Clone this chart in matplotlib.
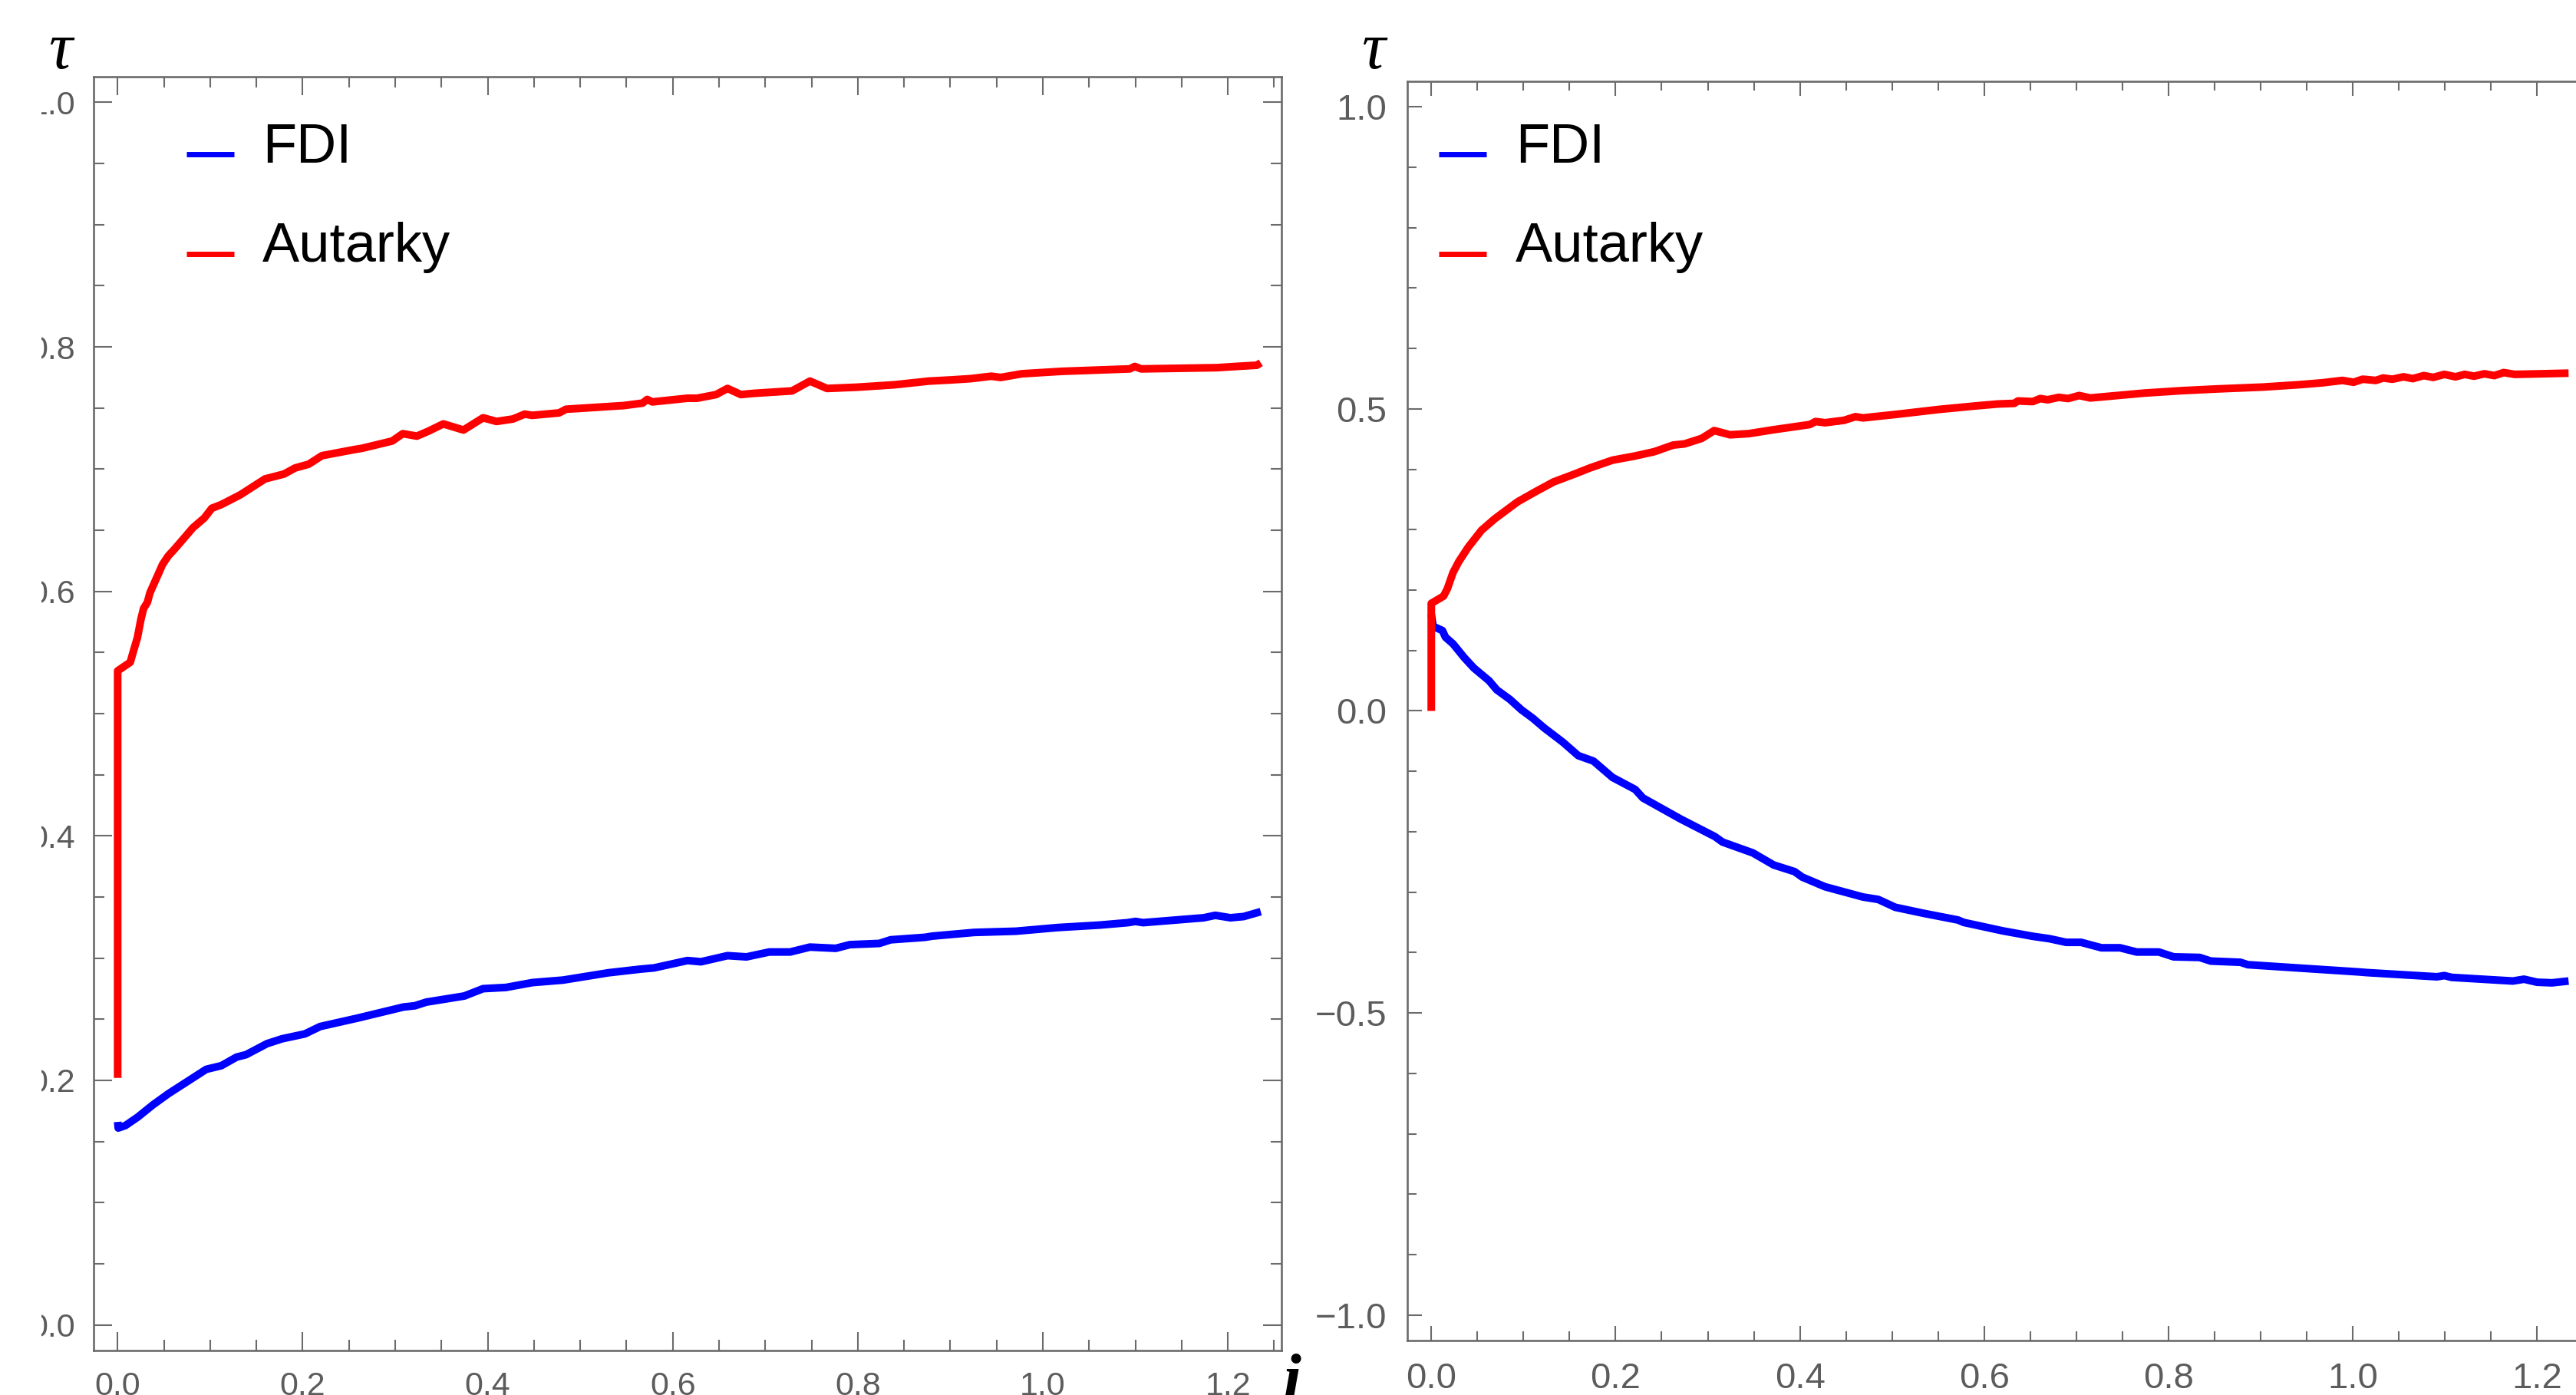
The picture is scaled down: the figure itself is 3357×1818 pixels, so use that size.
import matplotlib
matplotlib.use("Agg")
import matplotlib.pyplot as plt
from matplotlib import font_manager
from matplotlib.ticker import MultipleLocator
from matplotlib.transforms import Bbox, TransformedBbox

# ── DATA ─────────────────────────────────────────────────────────────────────

# left panel: tau against i
left_fdi_x = [0.0, 0.0006, 0.0083, 0.0218, 0.0382, 0.0547, 0.0711, 0.0875, 0.0957, 0.1121,
              0.1285, 0.1388, 0.1614, 0.1777, 0.2024, 0.2188, 0.2598, 0.3090, 0.3213, 0.3336,
              0.3747, 0.3950, 0.4197, 0.4485, 0.4813, 0.5059, 0.5305, 0.5654, 0.5798, 0.6159,
              0.6305, 0.6592, 0.6797, 0.7044, 0.7269, 0.7483, 0.7762, 0.7914, 0.8233, 0.8356,
              0.8726, 0.8808, 0.9259, 0.9710, 1.0161, 1.0612, 1.0920, 1.1002, 1.1084, 1.1740,
              1.1864, 1.2028, 1.2171, 1.2356]
left_fdi_y = [0.166, 0.161, 0.163, 0.170, 0.180, 0.189, 0.197, 0.205, 0.209, 0.212,
              0.219, 0.221, 0.230, 0.234, 0.238, 0.244, 0.251, 0.260, 0.261, 0.264,
              0.269, 0.275, 0.276, 0.280, 0.282, 0.285, 0.288, 0.291, 0.292, 0.298,
              0.297, 0.302, 0.301, 0.305, 0.305, 0.309, 0.308, 0.311, 0.312, 0.315,
              0.317, 0.318, 0.321, 0.322, 0.325, 0.327, 0.329, 0.330, 0.329, 0.333,
              0.335, 0.333, 0.334, 0.338]

left_aut_x = [0.0, 0.0, 0.0136, 0.0170, 0.0213, 0.0251, 0.0280, 0.0321, 0.0350, 0.0403,
              0.0485, 0.0547, 0.0608, 0.0711, 0.0813, 0.0936, 0.1018, 0.1120, 0.1326, 0.1593,
              0.1798, 0.1920, 0.2064, 0.2208, 0.2557, 0.2639, 0.2967, 0.3082, 0.3234, 0.3357,
              0.3520, 0.3738, 0.3950, 0.4095, 0.4272, 0.4400, 0.4480, 0.4772, 0.4846, 0.5470,
              0.5674, 0.5724, 0.5780, 0.6160, 0.6264, 0.6469, 0.6592, 0.6736, 0.6879, 0.7290,
              0.7483, 0.7667, 0.7987, 0.8397, 0.8766, 0.9013, 0.9218, 0.9443, 0.9546, 0.9772,
              1.0203, 1.0941, 1.0994, 1.1064, 1.1884, 1.2089, 1.2315, 1.2356]
left_aut_y = [0.202, 0.535, 0.542, 0.551, 0.562, 0.577, 0.586, 0.591, 0.599, 0.608,
              0.622, 0.629, 0.634, 0.643, 0.652, 0.660, 0.668, 0.671, 0.679, 0.692,
              0.696, 0.701, 0.704, 0.711, 0.716, 0.717, 0.723, 0.729, 0.727, 0.731,
              0.737, 0.732, 0.742, 0.739, 0.741, 0.745, 0.744, 0.746, 0.749, 0.752,
              0.754, 0.757, 0.755, 0.758, 0.758, 0.761, 0.766, 0.761, 0.762, 0.764,
              0.772, 0.766, 0.767, 0.769, 0.772, 0.773, 0.774, 0.776, 0.775, 0.778,
              0.780, 0.782, 0.784, 0.782, 0.783, 0.784, 0.785, 0.787]

# right panel
right_fdi_x = [0.0, 0.002, 0.0121, 0.0154, 0.0236, 0.0359, 0.0462, 0.0627, 0.0710, 0.0854,
               0.0977, 0.1101, 0.1224, 0.1430, 0.1595, 0.1760, 0.1966, 0.2213, 0.2296, 0.2707,
               0.3078, 0.3160, 0.3490, 0.3716, 0.3943, 0.4025, 0.4273, 0.4685, 0.4850, 0.5035,
               0.5344, 0.5715, 0.5777, 0.6201, 0.6527, 0.6709, 0.6890, 0.7051, 0.7272, 0.7473,
               0.7654, 0.7895, 0.8056, 0.8338, 0.8459, 0.8780, 0.8861, 0.9263, 0.9665, 1.0068,
               1.0148, 1.0913, 1.0993, 1.1073, 1.1737, 1.1858, 1.1999, 1.2160, 1.2341]
right_fdi_y = [0.160, 0.140, 0.133, 0.122, 0.111, 0.088, 0.071, 0.050, 0.035, 0.019,
               0.002, -0.012, -0.028, -0.052, -0.074, -0.083, -0.110, -0.130, -0.144, -0.179,
               -0.208, -0.217, -0.235, -0.255, -0.266, -0.275, -0.291, -0.308, -0.312, -0.325,
               -0.335, -0.346, -0.350, -0.364, -0.373, -0.377, -0.383, -0.383, -0.392, -0.392,
               -0.399, -0.399, -0.407, -0.408, -0.414, -0.416, -0.420, -0.424, -0.428, -0.432,
               -0.433, -0.440, -0.438, -0.441, -0.447, -0.444, -0.449, -0.450, -0.447]

right_aut_x = [0.0, 0.0, 0.0133, 0.0174, 0.0236, 0.0298, 0.0401, 0.0545, 0.0689, 0.0936,
               0.1121, 0.1327, 0.1554, 0.1719, 0.1966, 0.2213, 0.2419, 0.2625, 0.2749, 0.2934,
               0.3070, 0.3243, 0.3449, 0.3696, 0.4108, 0.4170, 0.4273, 0.4479, 0.4603, 0.4685,
               0.5056, 0.5509, 0.5921, 0.6148, 0.6326, 0.6366, 0.6527, 0.6608, 0.6688, 0.6809,
               0.6910, 0.7030, 0.7151, 0.7734, 0.8136, 0.8539, 0.9022, 0.9424, 0.9665, 0.9887,
               1.0008, 1.0108, 1.0249, 1.0329, 1.0430, 1.0550, 1.0651, 1.0771, 1.0872, 1.0993,
               1.1114, 1.1214, 1.1315, 1.1428, 1.1536, 1.1637, 1.1758, 1.2341]
right_aut_y = [0.0, 0.178, 0.190, 0.202, 0.229, 0.247, 0.271, 0.299, 0.318, 0.346,
               0.362, 0.379, 0.392, 0.402, 0.415, 0.422, 0.429, 0.440, 0.442, 0.451,
               0.464, 0.457, 0.459, 0.465, 0.474, 0.479, 0.477, 0.481, 0.487, 0.485,
               0.491, 0.499, 0.505, 0.508, 0.509, 0.513, 0.512, 0.517, 0.515, 0.519,
               0.517, 0.522, 0.518, 0.526, 0.530, 0.533, 0.536, 0.540, 0.543, 0.547,
               0.544, 0.549, 0.547, 0.551, 0.549, 0.553, 0.550, 0.555, 0.552, 0.557,
               0.553, 0.557, 0.554, 0.558, 0.555, 0.560, 0.557, 0.559]

x_ticks = [0.0, 0.2, 0.4, 0.6, 0.8, 1.0, 1.2]
x_tick_labels = ["0.0", "0.2", "0.4", "0.6", "0.8", "1.0", "1.2"]
left_y_ticks = [0.0, 0.2, 0.4, 0.6, 0.8, 1.0]
left_y_tick_labels = ["0.0", "0.2", "0.4", "0.6", "0.8", "1.0"]
right_y_ticks = [-1.0, -0.5, 0.0, 0.5, 1.0]
right_y_tick_labels = ["\u22121.0", "\u22120.5", "0.0", "0.5", "1.0"]

series_labels = ["FDI", "Autarky"]
series_colors = ["#0000ff", "#ff0000"]

# ── LAYOUT ───────────────────────────────────────────────────────────────────

W, H = 3357, 1818
FRAME = "#6b6b6b"

installed = {f.name for f in font_manager.fontManager.ttflist}
TICK_FONT = "Liberation Sans Narrow" if "Liberation Sans Narrow" in installed else "Liberation Sans"


def px_box(x0, y0, x1, y1):
    """Pixel box (top-left origin) -> figure fraction rect."""
    return [x0 / W, 1 - y1 / H, (x1 - x0) / W, (y1 - y0) / H]


def style_axes(ax, yticks, ylabels, yminor, ylim, size, xpad, ypad, major, minor):
    ax.set_xlim(-0.026, 1.258)
    ax.set_ylim(*ylim)
    ax.set_xticks(x_ticks, x_tick_labels)
    ax.set_yticks(yticks, ylabels)
    ax.xaxis.set_minor_locator(MultipleLocator(0.05))
    ax.yaxis.set_minor_locator(MultipleLocator(yminor))
    for s in ax.spines.values():
        s.set_color(FRAME)
        s.set_linewidth(1.9)
    ax.tick_params(which="both", direction="in", top=True, right=True,
                   color=FRAME, width=1.5, labelcolor="#5c5c5c", labelsize=size)
    ax.tick_params(which="major", length=major)
    ax.tick_params(which="minor", length=minor)
    ax.tick_params(axis="x", pad=xpad)
    ax.tick_params(axis="y", pad=ypad)
    for lab in ax.get_xticklabels() + ax.get_yticklabels():
        lab.set_fontfamily([TICK_FONT, "DejaVu Sans"])


def legend(ax, line_x, text_x, rows):
    # hand-placed legend, Mathematica style
    for (ly, by), lab, col in zip(rows, series_labels, series_colors):
        ax.plot(line_x, [ly, ly], transform=ax.transAxes, color=col, lw=5,
                solid_capstyle="butt", clip_on=False)
        ax.text(text_x, by, lab, transform=ax.transAxes, fontsize=52,
                family="Liberation Sans", va="baseline", ha="left")


fig = plt.figure(figsize=(W / 100, H / 100), dpi=100)

ax1 = fig.add_axes(px_box(122, 100, 1670, 1760))
ax2 = fig.add_axes(px_box(1834, 106, 3376, 1747))

style_axes(ax1, left_y_ticks, left_y_tick_labels, 0.05, (-0.021, 1.021),
           size=31, xpad=19.5, ypad=17, major=17, minor=10)
style_axes(ax2, right_y_ticks, right_y_tick_labels, 0.1, (-1.042, 1.042),
           size=34, xpad=20, ypad=19.5, major=13.7, minor=8.6)

line_kw = dict(lw=7.2, solid_joinstyle="round", solid_capstyle="butt")
ax1.plot(left_fdi_x, left_fdi_y, color=series_colors[0], **line_kw)
ax1.plot(left_aut_x, left_aut_y, color=series_colors[1], **line_kw)
ax2.plot(right_fdi_x, right_fdi_y, color=series_colors[0], **line_kw)
ax2.plot(right_aut_x, right_aut_y, color=series_colors[1], **line_kw)

legend(ax1, [0.0782, 0.1182], 0.1421, [(0.9392, 0.9325), (0.8608, 0.8548)])
legend(ax2, [0.0266, 0.0668], 0.0914, [(0.9421, 0.9354), (0.8629, 0.8568)])

# axis labels, placed where Mathematica put them
label_kw = dict(family="Liberation Serif", style="italic", fontsize=62, color="black")
fig.text(63 / W, 1 - 89 / H, "\u03c4", va="baseline", ha="left", **label_kw)
fig.text(1774 / W, 1 - 89 / H, "\u03c4", va="baseline", ha="left", **label_kw)
fig.text(1672 / W, 1 - 1764 / H, "i", va="top", ha="left", weight="bold", **label_kw)

# the original screenshot was cropped just left of the first panel's labels
fig.canvas.draw()
clip = TransformedBbox(Bbox.from_extents(54 / W, 0, 1, 1), fig.transFigure)
for lab in ax1.get_yticklabels():
    lab.set_clip_box(clip)
    lab.set_clip_on(True)

fig.savefig("out.png", dpi=100, facecolor="white")
